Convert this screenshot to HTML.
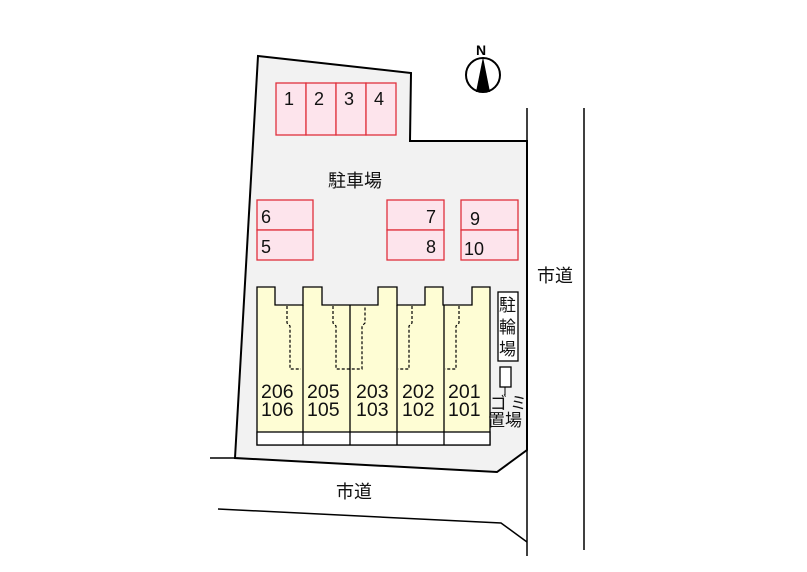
<!DOCTYPE html>
<html><head><meta charset="utf-8"><style>
html,body{margin:0;padding:0;background:#fff;}
svg text{font-family:"Liberation Sans","Noto Sans CJK JP",sans-serif;}
</style></head><body>
<svg width="807" height="567" viewBox="0 0 807 567" xmlns="http://www.w3.org/2000/svg">
<rect width="807" height="567" fill="#fff"/>
<line x1="527" y1="108" x2="527" y2="556" stroke="#000" stroke-width="1.5"/>
<line x1="584" y1="108" x2="584" y2="550" stroke="#000" stroke-width="1.5"/>
<polyline points="210,458 236,458" fill="none" stroke="#000" stroke-width="1.5"/>
<polyline points="218,509 501,523 527,542" fill="none" stroke="#000" stroke-width="1.5"/>
<polygon points="258,56 411,73 410,141 527,141 527,450 497,472 235,458" fill="#f2f2f2" stroke="#000" stroke-width="2"/>
<g fill="#fde4ec" stroke="#e0303c" stroke-width="1.3">
<rect x="276" y="83" width="30" height="52"/><rect x="306" y="83" width="30" height="52"/>
<rect x="336" y="83" width="30" height="52"/><rect x="366" y="83" width="30" height="52"/>
<rect x="257" y="200" width="56" height="30"/><rect x="257" y="230" width="56" height="30"/>
<rect x="387" y="200" width="57" height="30"/><rect x="387" y="230" width="57" height="30"/>
<rect x="461" y="200" width="57" height="30"/><rect x="461" y="230" width="57" height="30"/>
</g>
<g font-size="18" fill="#111">
<text x="284" y="105">1</text><text x="314" y="105">2</text><text x="344" y="105">3</text><text x="374" y="105">4</text>
<text x="261" y="223">6</text><text x="261" y="253">5</text>
<text x="426" y="223">7</text><text x="426" y="253">8</text>
<text x="470" y="225">9</text><text x="464" y="255">10</text>
</g>
<text x="328" y="187" font-size="18" fill="#111">駐車場</text>
<path d="M257,287 H275 V305 H303 V287 H322 V305 H378 V287 H397 V305 H425 V287 H443 V305 H472 V287 H490 V445 H257 Z" fill="#fefdd4" stroke="#000" stroke-width="1.3"/>
<rect x="257" y="432" width="233" height="13" fill="#fff" stroke="#000" stroke-width="1.3"/>
<g stroke="#000" stroke-width="1.3">
<line x1="303" y1="305" x2="303" y2="445"/><line x1="350" y1="305" x2="350" y2="445"/>
<line x1="397" y1="305" x2="397" y2="445"/><line x1="444" y1="305" x2="444" y2="445"/>
</g>
<g fill="none" stroke="#000" stroke-width="1.2" stroke-dasharray="3,2">
<polyline points="287,306 287,323 290,326 290,369 301,369"/>
<polyline points="333,306 333,323 336,326 336,369 350,369 362,369 362,326 365,323 365,306"/>
<polyline points="412,306 412,323 409,326 409,369 398,369"/>
<polyline points="459,306 459,323 456,326 456,369 445,369"/>
</g>
<g font-size="19.5" fill="#111">
<text x="261" y="398">206</text><text x="261" y="416">106</text>
<text x="307" y="398">205</text><text x="307" y="416">105</text>
<text x="356" y="398">203</text><text x="356" y="416">103</text>
<text x="402" y="398">202</text><text x="402" y="416">102</text>
<text x="448" y="398">201</text><text x="448" y="416">101</text>
</g>
<rect x="498" y="292" width="20" height="69" fill="#fff" stroke="#000" stroke-width="1.3"/>
<g font-size="17" fill="#111"><text x="499" y="311">駐</text><text x="499" y="333">輪</text><text x="499" y="355">場</text></g>
<rect x="500" y="367" width="11" height="20" fill="#fff" stroke="#000" stroke-width="1.3"/>
<line x1="505" y1="387" x2="505" y2="395" stroke="#000" stroke-width="1"/>
<g font-size="17" fill="#111"><text x="490" y="409">ゴ</text><text x="510" y="409">ミ</text><text x="488" y="426">置場</text></g>
<text x="537" y="282" font-size="18" fill="#111">市道</text>
<text x="336" y="498" font-size="18" fill="#111">市道</text>
<circle cx="483" cy="75" r="17" fill="#fff" stroke="#000" stroke-width="2"/>
<polygon points="483,57 476,92 490,92" fill="#000"/>
<text x="476" y="55" font-size="14" font-weight="bold" fill="#000">N</text>
</svg>
</body></html>
